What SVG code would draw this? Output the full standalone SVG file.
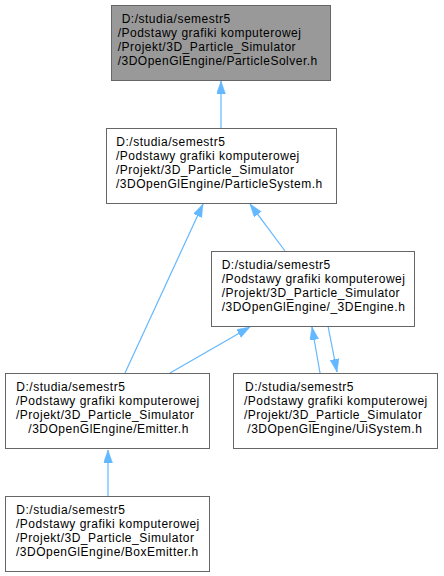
<svg xmlns="http://www.w3.org/2000/svg" width="444" height="576" viewBox="0 0 444 576">
  <style>
    .box { fill: #ffffff; stroke: #666666; stroke-width: 1; }
    .root { fill: #999999; stroke: #666666; stroke-width: 1; }
    .lbl { font-family: "Liberation Sans", Arial, sans-serif; font-size: 12px; letter-spacing: 0.5px; fill: #000000; }
    .edge { fill: none; stroke: #63b8ff; stroke-width: 1.2; marker-end: url(#head); }
  </style>
  <defs>
    <marker id="head" markerUnits="userSpaceOnUse" markerWidth="14" markerHeight="10" refX="13" refY="4.5" orient="auto">
      <path d="M0,0 L13,4.5 L0,9 z" fill="#63b8ff" stroke="#63b8ff" stroke-width="0.5"/>
    </marker>
  </defs>

  <rect width="444" height="576" fill="#ffffff"/>

  <g id="connectors">
    <path class="edge" d="M221,128 L221,81"/>
    <path class="edge" d="M285,251 L250,204"/>
    <path class="edge" d="M125,373 L203,204"/>
    <path class="edge" d="M170,373 L250,327"/>
    <path class="edge" d="M320,373 L312,327"/>
    <path class="edge" d="M328,326 L337,372"/>
    <path class="edge" d="M108,496 L108,450"/>
  </g>

  <g id="node-particlesolver">
    <rect class="root" x="111.5" y="5.5" width="219" height="75"/>
    <text class="lbl" x="121.7" y="23">D:/studia/semestr5</text>
    <text class="lbl" x="117.7" y="37">/Podstawy grafiki komputerowej</text>
    <text class="lbl" x="117.7" y="51">/Projekt/3D_Particle_Simulator</text>
    <text class="lbl" x="117.7" y="65">/3DOpenGlEngine/ParticleSolver.h</text>
  </g>

  <g id="node-particlesystem">
    <rect class="box" x="106.5" y="128.5" width="230" height="75"/>
    <text class="lbl" x="116.3" y="146">D:/studia/semestr5</text>
    <text class="lbl" x="116" y="160">/Podstawy grafiki komputerowej</text>
    <text class="lbl" x="116" y="174">/Projekt/3D_Particle_Simulator</text>
    <text class="lbl" x="116" y="188">/3DOpenGlEngine/ParticleSystem.h</text>
  </g>

  <g id="node-3dengine">
    <rect class="box" x="211.5" y="251.5" width="203" height="75"/>
    <text class="lbl" x="221.7" y="269">D:/studia/semestr5</text>
    <text class="lbl" x="221.7" y="283">/Podstawy grafiki komputerowej</text>
    <text class="lbl" x="221.7" y="297">/Projekt/3D_Particle_Simulator</text>
    <text class="lbl" x="221.7" y="311">/3DOpenGlEngine/_3DEngine.h</text>
  </g>

  <g id="node-emitter">
    <rect class="box" x="5.5" y="373.5" width="204" height="75"/>
    <text class="lbl" x="16.3" y="391">D:/studia/semestr5</text>
    <text class="lbl" x="16" y="405">/Podstawy grafiki komputerowej</text>
    <text class="lbl" x="16" y="419">/Projekt/3D_Particle_Simulator</text>
    <text class="lbl" x="28.3" y="433">/3DOpenGlEngine/Emitter.h</text>
  </g>

  <g id="node-uisystem">
    <rect class="box" x="233.5" y="373.5" width="204" height="75"/>
    <text class="lbl" x="245" y="391">D:/studia/semestr5</text>
    <text class="lbl" x="244" y="405">/Podstawy grafiki komputerowej</text>
    <text class="lbl" x="244" y="419">/Projekt/3D_Particle_Simulator</text>
    <text class="lbl" x="247.3" y="433">/3DOpenGlEngine/UiSystem.h</text>
  </g>

  <g id="node-boxemitter">
    <rect class="box" x="5.5" y="496.5" width="204" height="75"/>
    <text class="lbl" x="16.3" y="514">D:/studia/semestr5</text>
    <text class="lbl" x="16" y="528">/Podstawy grafiki komputerowej</text>
    <text class="lbl" x="16" y="542">/Projekt/3D_Particle_Simulator</text>
    <text class="lbl" x="16" y="556">/3DOpenGlEngine/BoxEmitter.h</text>
  </g>
</svg>
